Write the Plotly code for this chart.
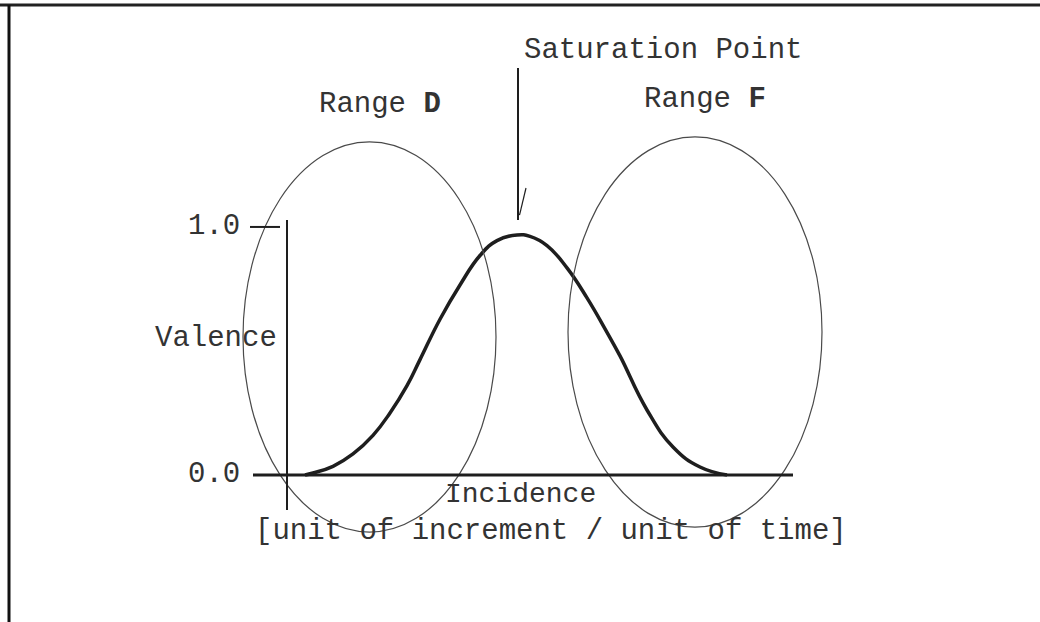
import plotly.graph_objects as go

# valence curve (incidence in arbitrary units)
curve_x = [0.36, 0.52, 0.92, 1.32, 1.72, 2.06, 2.40, 2.66, 3.06, 3.46, 3.86, 4.20,
           4.60, 4.86, 5.20, 5.60, 6.00, 6.40, 6.66, 7.20, 7.72, 8.26, 8.80]
curve_valence = [0.0, 0.008, 0.035, 0.085, 0.160, 0.250, 0.360, 0.465, 0.628, 0.766,
                 0.885, 0.945, 0.968, 0.962, 0.925, 0.835, 0.714, 0.575, 0.480, 0.262,
                 0.113, 0.032, 0.0]

tick_values = [0.0, 1.0]
tick_labels = ["0.0", "1.0"]

range_labels = ["Range <b>D</b>", "Range <b>F</b>"]
range_x = [(-0.88, 4.18), (5.62, 10.70)]
range_y = [(-0.23, 1.343), (-0.21, 1.363)]

saturation_x = 4.62

FONT = "Courier New, Liberation Mono, monospace"
INK = "#333333"
SIZE = 29

fig = go.Figure()

fig.add_trace(
    go.Scatter(
        x=curve_x,
        y=curve_valence,
        mode="lines",
        line=dict(color="#1e1e1e", width=3.5, shape="spline", smoothing=1.3),
        hoverinfo="skip",
    )
)

# the two range ellipses
for (x0, x1), (y0, y1), label in zip(range_x, range_y, range_labels):
    fig.add_shape(
        type="circle", xref="x", yref="y",
        x0=x0, x1=x1, y0=y0, y1=y1,
        line=dict(color="#4a4a4a", width=1.2),
    )
    fig.add_annotation(
        x=(x0 + x1) / 2 + 0.2, y=y1 + 0.15, text=label, showarrow=False,
        font=dict(family=FONT, size=SIZE, color=INK),
        xanchor="center", yanchor="middle",
    )

# axes drawn by hand like the original sketch
fig.add_shape(type="line", xref="x", yref="y", x0=-0.68, x1=10.12, y0=0, y1=0,
              line=dict(color="#1e1e1e", width=3))
fig.add_shape(type="line", xref="x", yref="y", x0=0, x1=0, y0=-0.141, y1=1.028,
              line=dict(color="#1e1e1e", width=2))
fig.add_shape(type="line", xref="x", yref="y", x0=-0.74, x1=-0.14, y0=1.0, y1=1.0,
              line=dict(color="#1e1e1e", width=2))

for val, lab in zip(tick_values, tick_labels):
    fig.add_annotation(
        x=-0.9, y=val, text=lab, showarrow=False,
        font=dict(family=FONT, size=SIZE, color=INK),
        xanchor="right", yanchor="middle",
    )

fig.add_annotation(x=-1.42, y=0.552, text="Valence", showarrow=False,
                   font=dict(family=FONT, size=SIZE, color=INK),
                   xanchor="center", yanchor="middle")
fig.add_annotation(x=4.66, y=-0.078, text="Incidence", showarrow=False,
                   font=dict(family=FONT, size=SIZE - 1, color=INK),
                   xanchor="center", yanchor="middle")
fig.add_annotation(x=5.28, y=-0.228, text="[unit of increment / unit of time]",
                   showarrow=False, font=dict(family=FONT, size=SIZE, color=INK),
                   xanchor="center", yanchor="middle")

# saturation point pointer
fig.add_annotation(x=7.52, y=1.71, text="Saturation Point", showarrow=False,
                   font=dict(family=FONT, size=SIZE, color=INK),
                   xanchor="center", yanchor="middle")
fig.add_shape(type="line", xref="x", yref="y", x0=saturation_x, x1=saturation_x,
              y0=1.028, y1=1.641, line=dict(color="#1e1e1e", width=2))
fig.add_shape(type="line", xref="x", yref="y", x0=saturation_x + 0.16, x1=saturation_x + 0.03,
              y0=1.157, y1=1.048, line=dict(color="#1e1e1e", width=1.2))

# scan frame edges
fig.add_shape(type="line", xref="paper", yref="paper", x0=0.0, x1=1.0,
              y0=1 - 5 / 622, y1=1 - 5 / 622, line=dict(color="#222222", width=3))
fig.add_shape(type="line", xref="paper", yref="paper", x0=9 / 1040, x1=9 / 1040,
              y0=0, y1=1 - 5 / 622, line=dict(color="#111111", width=3))

fig.update_layout(
    width=1040,
    height=622,
    margin=dict(l=0, r=0, t=0, b=0),
    paper_bgcolor="white",
    plot_bgcolor="white",
    showlegend=False,
)
fig.update_xaxes(visible=False, range=[-5.74, 15.06])
fig.update_yaxes(visible=False, range=[-0.5927, 1.915])

fig.write_html(
    "out.html",
    config={"displayModeBar": False},
    post_script="document.body.style.margin = '0';",
)
